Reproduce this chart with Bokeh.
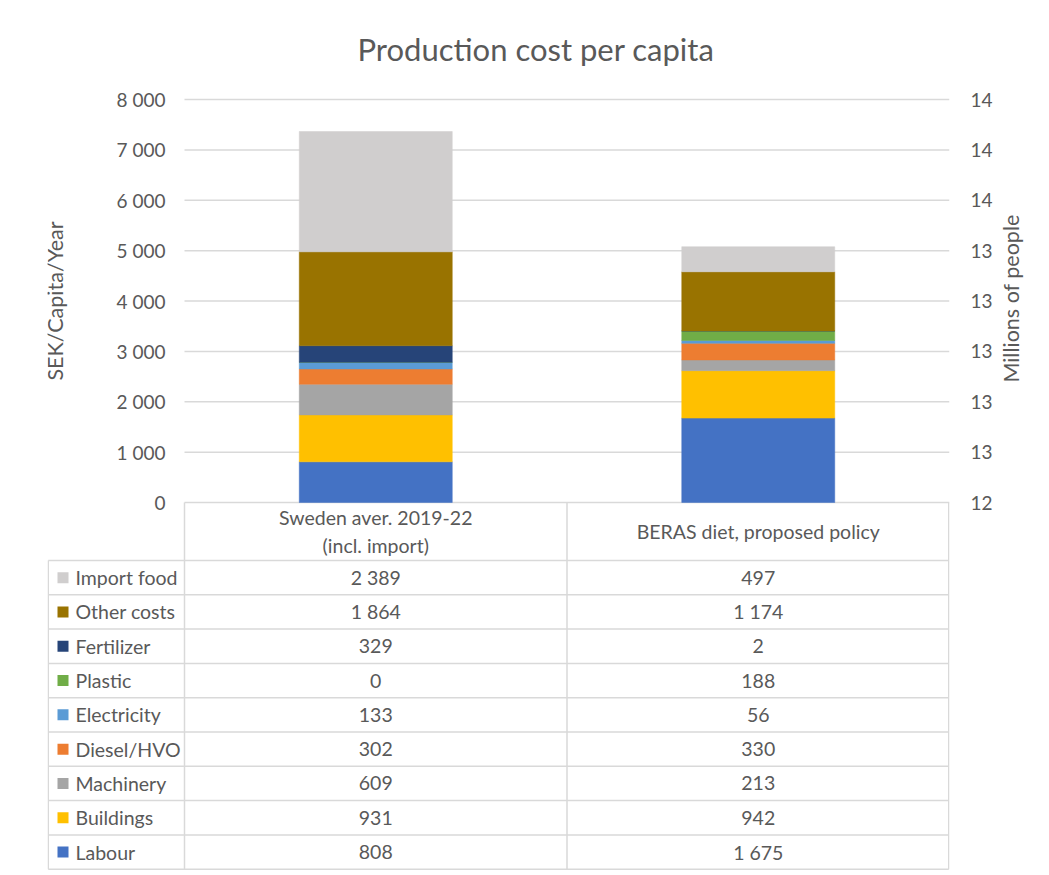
import math
from bokeh.plotting import figure
from bokeh.models import Range1d, FixedTicker, LinearAxis, ColumnDataSource
from bokeh.embed import file_html
from bokeh.resources import INLINE
from bokeh.core.properties import value

# ---------------- data ----------------
categories = ["Sweden aver. 2019-22\n(incl. import)", "BERAS diet, proposed policy"]
series = ["Labour", "Buildings", "Machinery", "Diesel/HVO", "Electricity",
          "Plastic", "Fertilizer", "Other costs", "Import food"]
labour = [808, 1675]
buildings = [931, 942]
machinery = [609, 213]
diesel_hvo = [302, 330]
electricity = [133, 56]
plastic = [0, 188]
fertilizer = [329, 2]
other_costs = [1864, 1174]
import_food = [2389, 497]
colors = ["#4472C4", "#FFC000", "#A5A5A5", "#ED7D31", "#5B9BD5",
          "#70AD47", "#264478", "#997300", "#D0CECE"]
y_ticks = [0, 1000, 2000, 3000, 4000, 5000, 6000, 7000, 8000]
y_tick_labels = ["0", "1 000", "2 000", "3 000", "4 000", "5 000", "6 000", "7 000", "8 000"]
right_tick_labels = ["12", "13", "13", "13", "13", "13", "14", "14", "14"]

values_by_series = [labour, buildings, machinery, diesel_hvo, electricity,
                    plastic, fertilizer, other_costs, import_food]

FONT = "Lato"
TXT = "#595959"
LINE = "#D9D9D9"

# ---------------- layout constants (page pixels) ----------------
W, H = 1047, 872
FRAME_L, FRAME_R, FRAME_T, FRAME_B = 48, 950, 84, 871
CAT_L = 185                      # left edge of category area
ZERO_Y, TOP_Y = 503, 100         # pixel rows of 0 and 8000
XPX = (FRAME_R - CAT_L) / 2      # px per category unit
U = 8000 / (ZERO_Y - TOP_Y)      # value units per px

def xp(px):
    return (px - CAT_L) / XPX

def yp(py):
    return (ZERO_Y - py) * U

p = figure(width=W, height=H,
           x_range=Range1d(xp(FRAME_L), 2), y_range=Range1d(yp(FRAME_B), yp(FRAME_T)),
           x_axis_type=None, y_axis_type=None, output_backend="svg", toolbar_location=None,
           min_border_left=FRAME_L - 1, min_border_right=W - (FRAME_R - 1),
           min_border_top=FRAME_T - 1, min_border_bottom=H - (FRAME_B - 1))
p.outline_line_color = None
p.background_fill_color = "white"
p.border_fill_color = "white"

p.title.text = "Production cost per capita"
p.title.align = "left"
p.title.offset = 310
p.title.text_font = FONT
p.title.text_font_size = "31px"
p.title.text_font_style = "normal"
p.title.text_color = TXT
p.title.standoff = 31


def plain_axis(ax):
    ax.axis_line_color = None
    ax.major_tick_line_color = None
    ax.minor_tick_line_color = None
    ax.major_tick_out = 0
    ax.major_tick_in = 0
    ax.minor_tick_out = 0
    ax.major_label_text_font = FONT
    ax.major_label_text_color = TXT


# right (secondary) axis
right = LinearAxis(ticker=FixedTicker(ticks=y_ticks),
                   major_label_overrides={t: l for t, l in zip(y_ticks, right_tick_labels)})
plain_axis(right)
right.major_label_standoff = 21
right.major_label_text_font_size = "19px"
p.add_layout(right, "right")

# title of the secondary axis, set beside the centre of the value scale
NAME_T = 2380
right_name = LinearAxis(ticker=FixedTicker(ticks=[NAME_T]),
                        major_label_overrides={NAME_T: "Millions of people"})
plain_axis(right_name)
right_name.major_label_standoff = 16
right_name.major_label_text_font_size = "21.5px"
right_name.major_label_orientation = math.pi / 2
p.add_layout(right_name, "right")

# horizontal gridlines
p.segment(x0=[0] * len(y_ticks), y0=y_ticks, x1=[2] * len(y_ticks), y1=y_ticks,
          line_color=LINE, line_width=1.5)

# left value axis labels
p.text(x=[xp(CAT_L - 19)] * len(y_ticks), y=y_ticks, text=y_tick_labels,
       text_align="right", text_baseline="middle", text_font=value(FONT),
       text_font_size="19px", text_color=TXT)
p.text(x=[xp(55)], y=[4000], text=["SEK/Capita/Year"], angle=math.pi / 2,
       text_align="center", text_baseline="middle", text_font=value(FONT),
       text_font_size="21.5px", text_color=TXT)

# stacked bars
src = ColumnDataSource(dict(x=[0.5, 1.5], **{s: v for s, v in zip(series, values_by_series)}))
p.vbar_stack(series, x="x", width=0.4, color=colors, line_color=colors, line_width=0.5,
             source=src)

# ---------------- data table ----------------
NR = len(series)
ROW = 34.3
HDR_B = 561
row_lines = [HDR_B + ROW * k for k in range(NR + 1)]
TBL_B = row_lines[-1]
eps = 0.75 / XPX
leg_x = xp(FRAME_L + 0.75)

p.segment(x0=[leg_x] * len(row_lines), y0=[yp(r) for r in row_lines],
          x1=[2 - eps] * len(row_lines), y1=[yp(r) for r in row_lines],
          line_color=LINE, line_width=1.5)
vx = [0, 1, 2 - eps]
p.segment(x0=vx, y0=[0] * 3, x1=vx, y1=[yp(TBL_B)] * 3, line_color=LINE, line_width=1.5)
p.segment(x0=[leg_x], y0=[yp(HDR_B)], x1=[leg_x], y1=[yp(TBL_B)], line_color=LINE,
          line_width=1.5)

p.text(x=[0.5, 1.5], y=[yp(532)] * 2, text=categories, text_align="center",
       text_baseline="middle", text_font=value(FONT), text_font_size="19.5px",
       text_color=TXT, text_line_height=1.2)

rows_series = list(reversed(series))
rows_colors = list(reversed(colors))
rows_vals = list(reversed(values_by_series))
row_y = [yp(HDR_B + ROW * i + ROW / 2) for i in range(NR)]

def fmt(v):
    return f"{v:,}".replace(",", " ")

p.scatter(x=[xp(63.5)] * NR, y=row_y, marker="square", size=11, fill_color=rows_colors,
          line_color=None)
p.text(x=[xp(76)] * NR, y=row_y, text=rows_series, text_align="left",
       text_baseline="middle", text_font=value(FONT), text_font_size="19.5px",
       text_color=TXT)
for ci in range(2):
    p.text(x=[ci + 0.5] * NR, y=row_y, text=[fmt(v[ci]) for v in rows_vals],
           text_align="center", text_baseline="middle", text_font=value(FONT),
           text_font_size="19.5px", text_color=TXT)

open("out.html", "w").write(file_html(p, INLINE))
